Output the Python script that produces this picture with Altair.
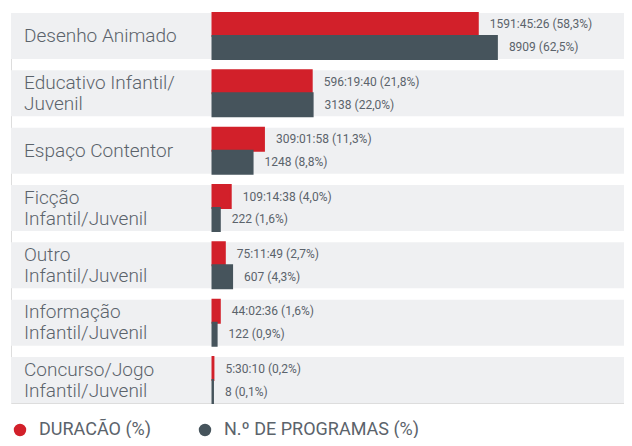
import altair as alt
import pandas as pd

cat_keys = ["c1", "c2", "c3", "c4", "c5", "c6", "c7"]
categories = [
    "Desenho Animado",
    "Educativo Infantil/\nJuvenil",
    "Espaço Contentor",
    "Ficção\nInfantil/Juvenil",
    "Outro\nInfantil/Juvenil",
    "Informação\nInfantil/Juvenil",
    "Concurso/Jogo\nInfantil/Juvenil",
]
dur_pct = [58.3, 21.8, 11.3, 4.0, 2.7, 1.6, 0.2]
dur_label = ["1591:45:26 (58,3%)", "596:19:40 (21,8%)", "309:01:58 (11,3%)",
             "109:14:38 (4,0%)", "75:11:49 (2,7%)", "44:02:36 (1,6%)", "5:30:10 (0,2%)"]
prog_pct = [62.5, 22.0, 8.8, 1.6, 4.3, 0.9, 0.1]
prog_label = ["8909 (62,5%)", "3138 (22,0%)", "1248 (8,8%)", "222 (1,6%)",
              "607 (4,3%)", "122 (0,9%)", "8 (0,1%)"]
series = ["DURACÃO (%)", "N.º DE PROGRAMAS (%)"]

rows = []
for k, dp, dl, pp, pl in zip(cat_keys, dur_pct, dur_label, prog_pct, prog_label):
    rows.append({"cat": k, "series": series[0], "pct": dp, "label": dl})
    rows.append({"cat": k, "series": series[1], "pct": pp, "label": pl})
df = pd.DataFrame(rows)
cats_df = pd.DataFrame({"cat": cat_keys, "name": categories,
                        "multi": ["\n" in c for c in categories]})

RED = "#d2202a"
DARK = "#46545c"
BAND = "#eff0f2"
TXT = "#5b636b"

W, H = 613, 390
yscale = alt.Scale(domain=cat_keys, paddingInner=0.198, paddingOuter=0)
xscale = alt.Scale(domain=[-44.29, 90.44], nice=False, zero=False)
y = alt.Y("cat:N", scale=yscale, axis=None, sort=cat_keys)
yoff = alt.YOffset("series:N", sort=series, scale=alt.Scale(paddingInner=0, paddingOuter=0))

bands = alt.Chart(cats_df).mark_rect(color=BAND).encode(
    y=y, x=alt.value(0), x2=alt.value(W)
)

name_style = dict(align="left", baseline="middle", font="Roboto", fontWeight=300,
                  fontSize=19, color=TXT, lineBreak="\n", lineHeight=21)
names1 = alt.Chart(cats_df).transform_filter("!datum.multi").mark_text(**name_style).encode(
    y=y, x=alt.value(13), text="name:N")
names2 = alt.Chart(cats_df).transform_filter("datum.multi").mark_text(dy=-10.5, **name_style).encode(
    y=y, x=alt.value(13), text="name:N")

bars = alt.Chart(df).mark_bar(strokeWidth=2).encode(
    y=y,
    yOffset=yoff,
    x=alt.X("pct:Q", scale=xscale, axis=None),
    color=alt.Color("series:N", sort=series,
                    scale=alt.Scale(domain=series, range=[RED, DARK]),
                    legend=alt.Legend(title=None, orient="none", legendX=0, legendY=408,
                                      direction="horizontal", symbolType="circle",
                                      symbolSize=154, symbolStrokeWidth=0,
                                      labelFontSize=18, labelFont="Roboto", labelColor=TXT,
                                      labelOffset=10, columnPadding=44, padding=0,
                                      labelLimit=300)),
    stroke=alt.Stroke("series:N", sort=series,
                      scale=alt.Scale(domain=series, range=[RED, DARK]), legend=None),
)

labels = alt.Chart(df).mark_text(
    align="left", baseline="middle", dx=12, font="Roboto", fontSize=12, color=TXT
).encode(
    y=y,
    yOffset=yoff,
    x=alt.X("pct:Q", scale=xscale, axis=None),
    text="label:N",
)

chart = alt.layer(bands, names1, names2, bars, labels).properties(
    width=W, height=H,
    padding={"left": 3, "top": 5, "right": 0, "bottom": 35},
    autosize=alt.AutoSizeParams(type="none"),
).configure_view(stroke=None).configure(background="white")

chart.save("out.html", embed_options={"renderer": "svg", "actions": False})
